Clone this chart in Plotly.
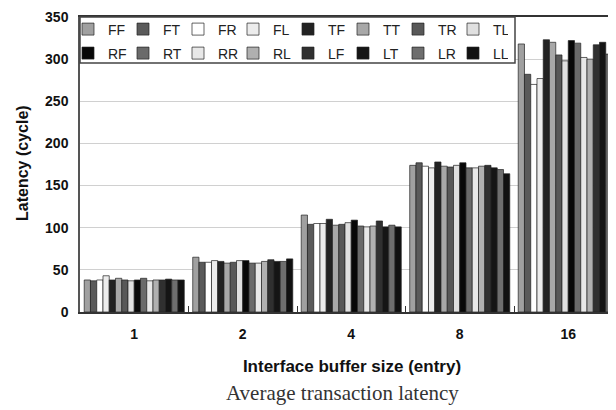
import plotly.graph_objects as go

categories = ["1", "2", "4", "8", "16"]
series_names = ["FF", "FT", "FR", "FL", "TF", "TT", "TR", "TL",
                "RF", "RT", "RR", "RL", "LF", "LT", "LR", "LL"]
FF = [38, 65, 115, 174, 318]
FT = [37, 59, 104, 177, 282]
FR = [38, 59, 105, 173, 270]
FL = [43, 61, 105, 171, 277]
TF = [38, 60, 110, 178, 323]
TT = [40, 58, 103, 173, 320]
TR = [38, 59, 104, 172, 305]
TL = [37, 61, 106, 174, 298]
RF = [38, 61, 109, 177, 322]
RT = [40, 58, 102, 171, 319]
RR = [37, 58, 101, 171, 302]
RL = [38, 60, 102, 173, 300]
LF = [38, 62, 108, 174, 317]
LT = [39, 60, 101, 171, 320]
LR = [38, 60, 103, 169, 306]
LL = [38, 63, 101, 164, 300]
series_values = [FF, FT, FR, FL, TF, TT, TR, TL, RF, RT, RR, RL, LF, LT, LR, LL]
colors = ["#a0a0a0", "#5a5a5a", "#ffffff", "#ececec", "#222222", "#a8a8a8", "#585858", "#e0e0e0",
          "#080808", "#6a6a6a", "#e8e8e8", "#b0b0b0", "#303030", "#151515", "#6e6e6e", "#111111"]

FONT = "Liberation Sans, Arial, sans-serif"

fig = go.Figure()
for i, (name, vals, col) in enumerate(zip(series_names, series_values, colors)):
    fig.add_trace(go.Bar(
        name=name, x=categories, y=vals,
        marker=dict(color=col, line=dict(color="#222222", width=0.7)),
        legend="legend" if i < 8 else "legend2",
    ))

# page is rendered with an 8px body margin; compensate in the figure margins
OFF = 8
W, H = 616, 410
L, R, T, B = 80 - OFF, 0, 17 - OFF, H - (312 - OFF)
band_px = 108.5
plot_w = W - L - R
plot_h = 295
x_end = -0.5 + plot_w / band_px


def py(page_y):
    return (312 - page_y) / plot_h


def px(page_x):
    return (page_x - 80) / plot_w


legend_common = dict(
    orientation="h", xref="container", x=60 / W, xanchor="left",
    yanchor="middle", bgcolor="rgba(0,0,0,0)", borderwidth=0,
    font=dict(family=FONT, size=14, color="#222222"),
    entrywidth=10, entrywidthmode="pixels", tracegroupgap=0, itemclick=False,
)

fig.update_layout(
    width=W, height=H,
    margin=dict(l=L, r=R, t=T, b=B, autoexpand=False),
    paper_bgcolor="white", plot_bgcolor="white",
    barmode="group", bargap=0.078, bargroupgap=0,
    font=dict(family=FONT, size=13, color="#111111"),
    legend=dict(y=py(29.5), **legend_common),
    legend2=dict(y=py(53.5), **legend_common),
    shapes=[dict(type="rect", xref="paper", yref="paper",
                 x0=0, x1=px(515), y0=py(63), y1=1.0,
                 line=dict(color="#444444", width=1.5), fillcolor="white", layer="above")],
    annotations=[
        dict(text="Average transaction latency", xref="paper", yref="paper",
             x=px(342), y=py(393), xanchor="center", yanchor="middle", showarrow=False,
             font=dict(family="Liberation Serif, Times New Roman, serif", size=21, color="#333333")),
        dict(text="<b>Latency (cycle)</b>", xref="paper", yref="paper",
             x=px(22), y=py(163), xanchor="center", yanchor="middle", showarrow=False,
             textangle=-90,
             font=dict(family=FONT, size=16, color="#111111")),
    ],
)

fig.update_xaxes(
    type="category", range=[-0.5, x_end],
    showline=True, linecolor="#333333", linewidth=1.5, mirror=True,
    ticks="inside", tickson="boundaries", ticklen=6, tickcolor="#333333",
    ticklabelstandoff=8,
    tickfont=dict(family=FONT, size=14, color="#111111", weight="bold"),
    title=dict(text="Interface buffer size (entry)", standoff=20,
               font=dict(family=FONT, size=17, color="#111111", weight="bold")),
    showgrid=False,
)
fig.update_yaxes(
    range=[0, 350], dtick=50,
    showline=True, linecolor="#555555", linewidth=1.5,
    showgrid=True, gridcolor="#d0d0d0", gridwidth=1,
    ticks="", ticklabelstandoff=7,
    tickfont=dict(family=FONT, size=14, color="#111111", weight="bold"),
    zeroline=False,
)

fig.write_html("out.html")
